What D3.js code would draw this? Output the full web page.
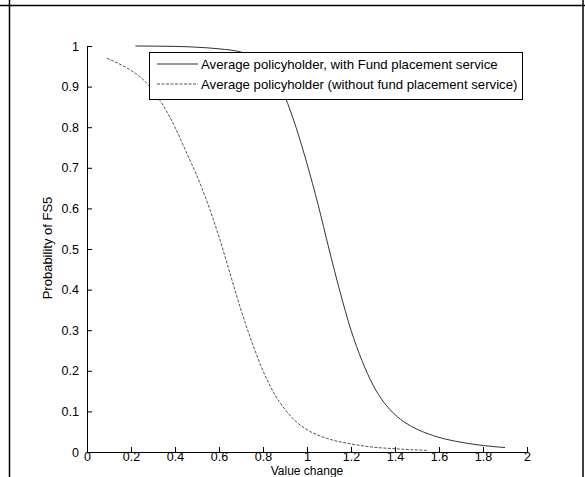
<!DOCTYPE html>
<html>
<head>
<meta charset="utf-8">
<script src="https://cdn.jsdelivr.net/npm/d3@7"></script>
<style>
  body { margin: 0; background: #fff; }
  svg { display: block; font-family: "Liberation Sans", Arial, sans-serif; }
  .axis path, .axis line { stroke: #000; }
  .axis text { font-size: 12.5px; fill: #000; }
</style>
</head>
<body>
<svg id="chart" width="585" height="477"></svg>
<script>
// values
var withX = [0.22, 0.40, 0.50, 0.60, 0.70, 0.80, 0.85, 0.90, 0.95, 1.00, 1.05, 1.10,
  1.15, 1.20, 1.25, 1.30, 1.35, 1.40, 1.45, 1.50, 1.55, 1.60, 1.70, 1.80, 1.90];
var withY = [1.0, 0.999, 0.997, 0.993, 0.985, 0.96, 0.93, 0.875, 0.80, 0.71, 0.61, 0.50,
  0.395, 0.30, 0.225, 0.165, 0.122, 0.092, 0.071, 0.056, 0.045, 0.036, 0.024, 0.016, 0.011];
var withoutX = [0.09, 0.15, 0.20, 0.25, 0.30, 0.35, 0.40, 0.45, 0.50, 0.55, 0.60, 0.65, 0.70,
  0.75, 0.80, 0.85, 0.90, 0.95, 1.00, 1.10, 1.20, 1.30, 1.40, 1.50, 1.55];
var withoutY = [0.97, 0.955, 0.94, 0.92, 0.89, 0.85, 0.80, 0.74, 0.68, 0.61, 0.53, 0.44, 0.35,
  0.27, 0.20, 0.145, 0.105, 0.075, 0.055, 0.032, 0.02, 0.012, 0.008, 0.005, 0.004];
var seriesNames = ['Average policyholder, with Fund placement service',
  'Average policyholder (without fund placement service)'];
var xTicks = [0, 0.2, 0.4, 0.6, 0.8, 1, 1.2, 1.4, 1.6, 1.8, 2];
var yTicks = [0, 0.1, 0.2, 0.3, 0.4, 0.5, 0.6, 0.7, 0.8, 0.9, 1];

var svg = d3.select('#chart');

// outer frame of the scanned figure
svg.append('line').attr('x1', 0).attr('x2', 585).attr('y1', 5.5).attr('y2', 5.5)
  .attr('stroke', '#000').attr('stroke-width', 1.5);
svg.append('line').attr('x1', 9.5).attr('x2', 9.5).attr('y1', 0).attr('y2', 477)
  .attr('stroke', '#000').attr('stroke-width', 1.5);
svg.append('line').attr('x1', 583).attr('x2', 583).attr('y1', 0).attr('y2', 477)
  .attr('stroke', '#000').attr('stroke-width', 1.5);

var x = d3.scaleLinear().domain([0, 2]).range([87, 527]);
var y = d3.scaleLinear().domain([0, 1]).range([452, 46]);

var xAxis = d3.axisBottom(x).tickValues(xTicks).tickSizeInner(-5).tickSizeOuter(0)
  .tickPadding(0).tickFormat(d3.format('~g'));
svg.append('g').attr('class', 'axis').attr('transform', 'translate(0,452)').call(xAxis);

var yAxis = d3.axisLeft(y).tickValues(yTicks).tickSizeInner(-5).tickSizeOuter(0)
  .tickPadding(8).tickFormat(d3.format('~g'));
svg.append('g').attr('class', 'axis').attr('transform', 'translate(87,0)').call(yAxis);

var line = d3.line().curve(d3.curveMonotoneX)
  .x(function (d) { return x(d[0]); })
  .y(function (d) { return y(d[1]); });

var withData = withX.map(function (v, i) { return [v, withY[i]]; });
var withoutData = withoutX.map(function (v, i) { return [v, withoutY[i]]; });

svg.append('path').datum(withoutData).attr('d', line)
  .attr('fill', 'none').attr('stroke', '#555').attr('stroke-width', 1)
  .attr('stroke-dasharray', '3,1.5');
svg.append('path').datum(withData).attr('d', line)
  .attr('fill', 'none').attr('stroke', '#333').attr('stroke-width', 1);

// legend
var leg = svg.append('g');
leg.append('rect').attr('x', 149.5).attr('y', 52.5).attr('width', 373).attr('height', 47)
  .attr('fill', '#fff').attr('stroke', '#000').attr('stroke-width', 1);
var legStyles = [{ stroke: '#333', dash: null }, { stroke: '#555', dash: '3,1.5' }];
seriesNames.forEach(function (name, i) {
  var ly = 64 + i * 20;
  leg.append('line').attr('x1', 157).attr('x2', 198).attr('y1', ly).attr('y2', ly)
    .attr('stroke', legStyles[i].stroke).attr('stroke-width', 1)
    .attr('stroke-dasharray', legStyles[i].dash);
  leg.append('text').attr('x', 201).attr('y', ly).attr('dy', '0.35em')
    .attr('font-size', 13.2).text(name);
});

// axis titles
svg.append('text').attr('x', 307).attr('y', 474.5).attr('text-anchor', 'middle')
  .attr('font-size', 12).text('Value change');
svg.append('text').attr('transform', 'translate(52,248) rotate(-90)')
  .attr('text-anchor', 'middle').attr('font-size', 13).text('Probability of FS5');
</script>
</body>
</html>
